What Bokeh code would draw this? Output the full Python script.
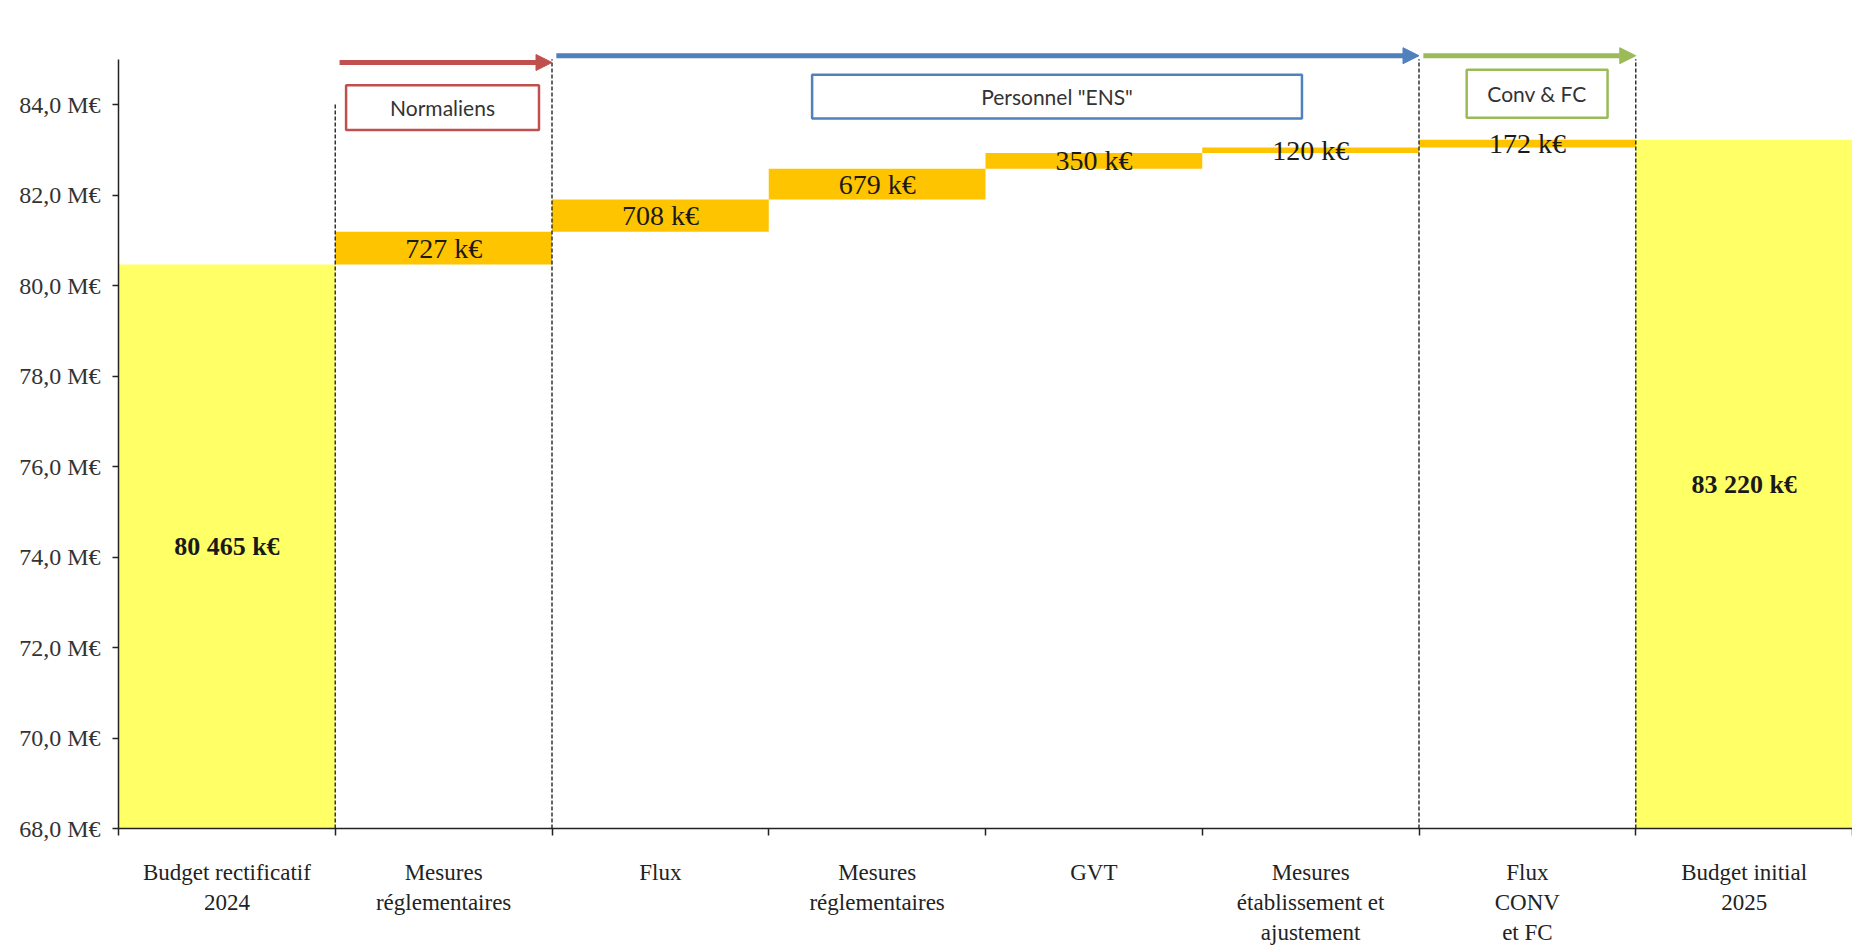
from bokeh.plotting import figure
from bokeh.models import Range1d, FixedTicker, Arrow, NormalHead
from bokeh.core.properties import value
from bokeh.embed import file_html
from bokeh.resources import INLINE

# ---------------- data ----------------
categories = [
    "Budget rectificatif\n2024",
    "Mesures\nréglementaires",
    "Flux",
    "Mesures\nréglementaires",
    "GVT",
    "Mesures\nétablissement et\najustement",
    "Flux\nCONV\net FC",
    "Budget initial\n2025",
]
budget_2024_keur = 80465
deltas_keur = [727, 708, 679, 350, 120, 172]
budget_2025_keur = 83220

y_ticks_meur = [68, 70, 72, 74, 76, 78, 80, 82, 84]
y_tick_labels = ["68,0 M€", "70,0 M€", "72,0 M€", "74,0 M€", "76,0 M€",
                 "78,0 M€", "80,0 M€", "82,0 M€", "84,0 M€"]

groups = ["Normaliens", 'Personnel "ENS"', "Conv & FC"]
group_start = [1, 2, 6]
group_end = [2, 6, 7]
group_colors = ["#C0504D", "#4F81BD", "#9BBB59"]
# annotation layout (box extents, arrow heights)
group_box_x = [(1.05, 1.94), (3.2, 5.46), (6.22, 6.87)]
group_box_y = [(83.44, 84.43), (83.69, 84.66), (83.71, 84.77)]
group_arrow_y = [84.93, 85.08, 85.08]
dashed_x = [1, 2, 6, 7]
dashed_top = [84.0, 85.0, 85.0, 85.0]

Y_MIN, Y_MAX = 68, 85.35

# ---------------- derived bars ----------------
fmt = lambda v: f"{v:,}".replace(",", " ") + " k€"

tot_left, tot_right, tot_top, tot_mid, tot_lbl = [], [], [], [], []
for i, v in [(0, budget_2024_keur), (7, budget_2025_keur)]:
    tot_left.append(i)
    tot_right.append(i + 1)
    tot_top.append(v / 1000)
    tot_mid.append((Y_MIN + v / 1000) / 2)
    tot_lbl.append(fmt(v))

d_left, d_right, d_bot, d_top, d_mid, d_lbl = [], [], [], [], [], []
level = budget_2024_keur
for k, d in enumerate(deltas_keur):
    i = k + 1
    d_left.append(i)
    d_right.append(i + 1)
    d_bot.append(level / 1000)
    d_top.append((level + d) / 1000)
    d_mid.append((level + d / 2) / 1000)
    d_lbl.append(fmt(d))
    level += d

# ---------------- figure ----------------
p = figure(width=1852, height=947, output_backend="svg", toolbar_location=None,
           x_range=Range1d(0, 8), y_range=Range1d(Y_MIN, Y_MAX),
           min_border_left=118, min_border_right=0, min_border_top=43,
           min_border_bottom=112)
p.outline_line_color = None
p.xgrid.visible = False
p.ygrid.visible = False
p.background_fill_color = "white"

p.quad(left=tot_left, right=tot_right, bottom=Y_MIN, top=tot_top,
       fill_color="#FFFF66", line_color=None)
p.quad(left=d_left, right=d_right, bottom=d_bot, top=d_top,
       fill_color="#FFC400", line_color=None)

# dashed separators
p.segment(x0=dashed_x, y0=[Y_MIN] * len(dashed_x), x1=dashed_x, y1=dashed_top,
          line_color="#333333", line_width=1.5, line_dash="4 2")

# labels
p.text(x=[l + 0.5 for l in tot_left], y=tot_mid, text=tot_lbl,
       text_font=value("Liberation Serif"), text_font_size="26px",
       text_font_style="bold", text_color="#1a1a1a",
       text_align="center", text_baseline="middle")
p.text(x=[l + 0.5 for l in d_left], y=d_mid, text=d_lbl,
       text_font=value("Liberation Serif"), text_font_size="28px",
       text_color="#1a1a1a", text_align="center", text_baseline="middle")

# group boxes
p.quad(left=[b[0] for b in group_box_x], right=[b[1] for b in group_box_x],
       bottom=[b[0] for b in group_box_y], top=[b[1] for b in group_box_y],
       fill_color="white", line_color=group_colors, line_width=2.5)
p.text(x=[(b[0] + b[1]) / 2 for b in group_box_x],
       y=[(b[0] + b[1]) / 2 for b in group_box_y], text=groups,
       text_font=value("Lato"), text_font_size="21px", text_color="#333333",
       text_align="center", text_baseline="middle")

# arrows
for s, e, c, y in zip(group_start, group_end, group_colors, group_arrow_y):
    p.add_layout(Arrow(end=NormalHead(size=16, fill_color=c, line_color=c),
                       x_start=s + 0.02, y_start=y, x_end=e, y_end=y,
                       line_color=c, line_width=5))

# axes
xa = p.xaxis[0]
xa.ticker = FixedTicker(ticks=[i + 0.5 for i in range(len(categories))],
                        minor_ticks=list(range(len(categories) + 1)))
xa.major_label_overrides = {i + 0.5: c for i, c in enumerate(categories)}
xa.major_tick_line_color = None
xa.major_tick_out = 0
xa.major_tick_in = 0
xa.minor_tick_line_color = "#222222"
xa.minor_tick_line_width = 1.5
xa.minor_tick_out = 7
xa.minor_tick_in = 0
xa.axis_line_color = "#222222"
xa.axis_line_width = 1.5
xa.major_label_text_font = "Liberation Serif"
xa.major_label_text_font_size = "23px"
xa.major_label_text_color = "#222222"
xa.major_label_text_line_height = 1.2
xa.major_label_standoff = 24

ya = p.yaxis[0]
ya.ticker = FixedTicker(ticks=y_ticks_meur, minor_ticks=[])
ya.major_label_overrides = {t: l for t, l in zip(y_ticks_meur, y_tick_labels)}
ya.bounds = (68, 85)
ya.major_tick_out = 6
ya.major_tick_in = 0
ya.major_tick_line_color = "#222222"
ya.major_tick_line_width = 1.5
ya.minor_tick_line_color = None
ya.axis_line_color = "#222222"
ya.axis_line_width = 1.5
ya.major_label_text_font = "Liberation Serif"
ya.major_label_text_font_size = "24px"
ya.major_label_text_color = "#333333"
ya.major_label_standoff = 12

open("out.html", "w").write(file_html(p, INLINE))
